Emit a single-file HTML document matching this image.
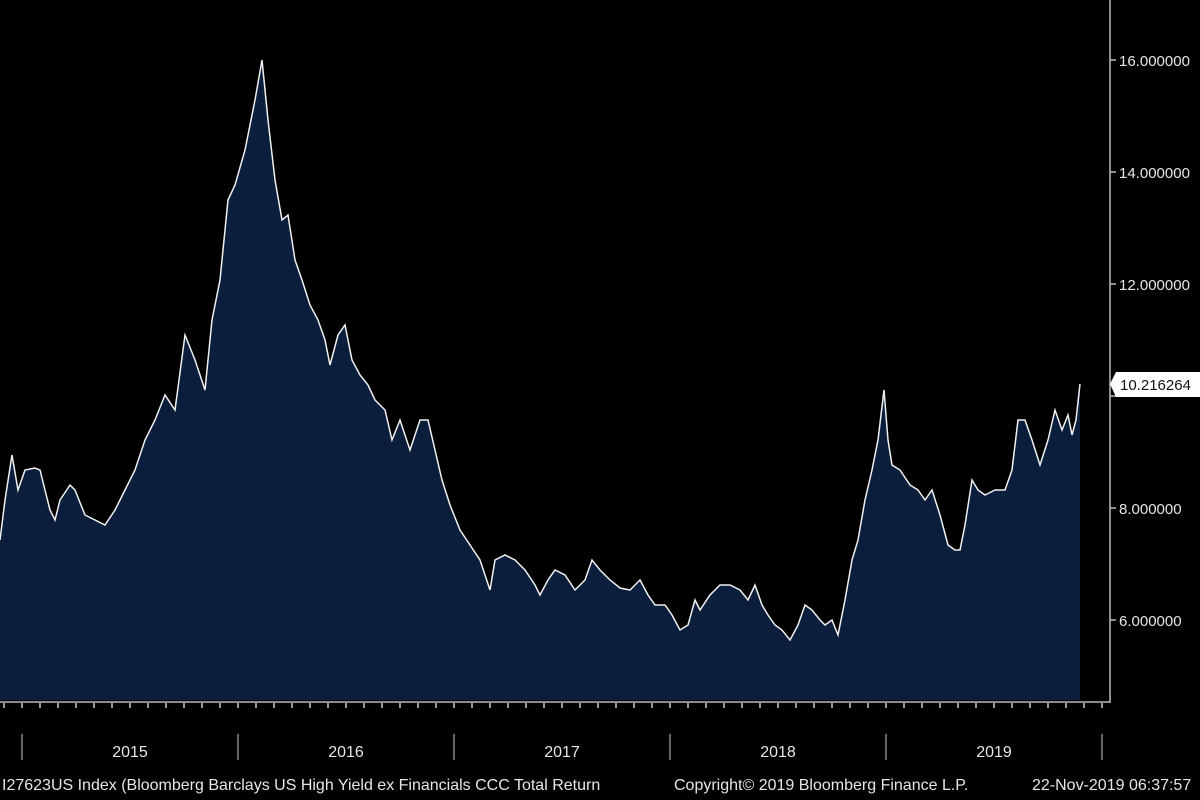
<!DOCTYPE html>
<html><head><meta charset="utf-8"><style>
html,body{margin:0;padding:0;background:#000;}
svg{display:block}
text{font-family:"Liberation Sans Narrow","Liberation Sans",sans-serif;fill:#e6e6e6}
</style></head><body>
<svg width="1200" height="800" viewBox="0 0 1200 800">
<rect width="1200" height="800" fill="#000"/>
<polygon fill="#0b1f3c" points="0,700 0,540 5,500 12,455 18,490 25,470 35,468 40,470 50,510 55,520 60,500 70,485 75,490 85,515 95,520 105,525 115,510 125,490 135,470 145,440 155,420 165,395 175,410 185,335 195,360 205,390 212,320 220,280 228,200 235,185 245,150 255,100 262,60 268,120 275,180 282,220 288,215 295,260 302,280 310,305 318,320 325,340 330,365 338,335 345,325 352,360 360,375 368,385 375,400 385,410 392,440 400,420 410,450 420,420 428,420 435,450 442,480 450,505 460,530 470,545 480,560 490,590 495,560 505,555 515,560 525,570 535,585 540,595 548,580 555,570 565,575 575,590 585,580 592,560 600,570 610,580 620,588 630,590 640,580 648,595 655,605 665,605 672,615 680,630 688,625 695,600 700,610 710,595 720,585 730,585 740,590 748,600 755,585 762,605 768,615 775,625 782,630 790,640 798,625 805,605 812,610 820,620 825,625 832,620 838,635 845,600 852,560 858,540 865,500 872,470 878,440 884,390 888,440 892,465 900,470 910,485 918,490 925,500 932,490 940,515 948,545 955,550 960,550 965,525 972,480 978,490 985,495 995,490 1005,490 1012,470 1018,420 1025,420 1032,440 1040,465 1048,440 1055,410 1062,430 1068,415 1072,435 1076,420 1080,384 1080,700"/>
<polyline fill="none" stroke="#f0f0f0" stroke-width="1.5" points="0,540 5,500 12,455 18,490 25,470 35,468 40,470 50,510 55,520 60,500 70,485 75,490 85,515 95,520 105,525 115,510 125,490 135,470 145,440 155,420 165,395 175,410 185,335 195,360 205,390 212,320 220,280 228,200 235,185 245,150 255,100 262,60 268,120 275,180 282,220 288,215 295,260 302,280 310,305 318,320 325,340 330,365 338,335 345,325 352,360 360,375 368,385 375,400 385,410 392,440 400,420 410,450 420,420 428,420 435,450 442,480 450,505 460,530 470,545 480,560 490,590 495,560 505,555 515,560 525,570 535,585 540,595 548,580 555,570 565,575 575,590 585,580 592,560 600,570 610,580 620,588 630,590 640,580 648,595 655,605 665,605 672,615 680,630 688,625 695,600 700,610 710,595 720,585 730,585 740,590 748,600 755,585 762,605 768,615 775,625 782,630 790,640 798,625 805,605 812,610 820,620 825,625 832,620 838,635 845,600 852,560 858,540 865,500 872,470 878,440 884,390 888,440 892,465 900,470 910,485 918,490 925,500 932,490 940,515 948,545 955,550 960,550 965,525 972,480 978,490 985,495 995,490 1005,490 1012,470 1018,420 1025,420 1032,440 1040,465 1048,440 1055,410 1062,430 1068,415 1072,435 1076,420 1080,384"/>
<line x1="1110" y1="0" x2="1110" y2="703" stroke="#bbb" stroke-width="1.5"/>
<line x1="0" y1="702" x2="1110" y2="702" stroke="#bbb" stroke-width="1.5"/>
<g stroke="#bbb" stroke-width="1.5">
<line x1="1110" y1="60" x2="1116" y2="60"/><line x1="1110" y1="172" x2="1116" y2="172"/><line x1="1110" y1="284" x2="1116" y2="284"/><line x1="1110" y1="396" x2="1116" y2="396"/><line x1="1110" y1="508" x2="1116" y2="508"/><line x1="1110" y1="620" x2="1116" y2="620"/>
</g>
<g font-size="15">
<text x="1119" y="66">16.000000</text>
<text x="1119" y="178">14.000000</text>
<text x="1119" y="290">12.000000</text>
<text x="1119" y="514">8.000000</text>
<text x="1119" y="626">6.000000</text>
</g>
<path d="M1110,384 L1116,372 L1200,372 L1200,397 L1116,397 Z" fill="#fff"/>
<text x="1120" y="390" font-size="15" style="fill:#111">10.216264</text>
<g stroke="#ccc" stroke-width="1.5" id="ticks">
<line x1="4" y1="703" x2="4" y2="708"/><line x1="22" y1="703" x2="22" y2="708"/><line x1="40" y1="703" x2="40" y2="708"/><line x1="58" y1="703" x2="58" y2="708"/><line x1="76" y1="703" x2="76" y2="708"/><line x1="94" y1="703" x2="94" y2="708"/><line x1="112" y1="703" x2="112" y2="708"/><line x1="130" y1="703" x2="130" y2="708"/><line x1="148" y1="703" x2="148" y2="708"/><line x1="166" y1="703" x2="166" y2="708"/><line x1="184" y1="703" x2="184" y2="708"/><line x1="202" y1="703" x2="202" y2="708"/><line x1="220" y1="703" x2="220" y2="708"/><line x1="238" y1="703" x2="238" y2="708"/><line x1="256" y1="703" x2="256" y2="708"/><line x1="274" y1="703" x2="274" y2="708"/><line x1="292" y1="703" x2="292" y2="708"/><line x1="310" y1="703" x2="310" y2="708"/><line x1="328" y1="703" x2="328" y2="708"/><line x1="346" y1="703" x2="346" y2="708"/><line x1="364" y1="703" x2="364" y2="708"/><line x1="382" y1="703" x2="382" y2="708"/><line x1="400" y1="703" x2="400" y2="708"/><line x1="418" y1="703" x2="418" y2="708"/><line x1="436" y1="703" x2="436" y2="708"/><line x1="454" y1="703" x2="454" y2="708"/><line x1="472" y1="703" x2="472" y2="708"/><line x1="490" y1="703" x2="490" y2="708"/><line x1="508" y1="703" x2="508" y2="708"/><line x1="526" y1="703" x2="526" y2="708"/><line x1="544" y1="703" x2="544" y2="708"/><line x1="562" y1="703" x2="562" y2="708"/><line x1="580" y1="703" x2="580" y2="708"/><line x1="598" y1="703" x2="598" y2="708"/><line x1="616" y1="703" x2="616" y2="708"/><line x1="634" y1="703" x2="634" y2="708"/><line x1="652" y1="703" x2="652" y2="708"/><line x1="670" y1="703" x2="670" y2="708"/><line x1="688" y1="703" x2="688" y2="708"/><line x1="706" y1="703" x2="706" y2="708"/><line x1="724" y1="703" x2="724" y2="708"/><line x1="742" y1="703" x2="742" y2="708"/><line x1="760" y1="703" x2="760" y2="708"/><line x1="778" y1="703" x2="778" y2="708"/><line x1="796" y1="703" x2="796" y2="708"/><line x1="814" y1="703" x2="814" y2="708"/><line x1="832" y1="703" x2="832" y2="708"/><line x1="850" y1="703" x2="850" y2="708"/><line x1="868" y1="703" x2="868" y2="708"/><line x1="886" y1="703" x2="886" y2="708"/><line x1="904" y1="703" x2="904" y2="708"/><line x1="922" y1="703" x2="922" y2="708"/><line x1="940" y1="703" x2="940" y2="708"/><line x1="958" y1="703" x2="958" y2="708"/><line x1="976" y1="703" x2="976" y2="708"/><line x1="994" y1="703" x2="994" y2="708"/><line x1="1012" y1="703" x2="1012" y2="708"/><line x1="1030" y1="703" x2="1030" y2="708"/><line x1="1048" y1="703" x2="1048" y2="708"/><line x1="1066" y1="703" x2="1066" y2="708"/><line x1="1084" y1="703" x2="1084" y2="708"/><line x1="1102" y1="703" x2="1102" y2="708"/>
</g>
<g stroke="#888" stroke-width="1.5">
<line x1="22" y1="734" x2="22" y2="760"/><line x1="238" y1="734" x2="238" y2="760"/><line x1="454" y1="734" x2="454" y2="760"/><line x1="670" y1="734" x2="670" y2="760"/><line x1="886" y1="734" x2="886" y2="760"/><line x1="1102" y1="734" x2="1102" y2="760"/>
</g>
<g font-size="16" text-anchor="middle">
<text x="130" y="757">2015</text><text x="346" y="757">2016</text><text x="562" y="757">2017</text><text x="778" y="757">2018</text><text x="994" y="757">2019</text>
</g>
<g font-size="16">
<text x="2" y="790">I27623US Index (Bloomberg Barclays US High Yield ex Financials CCC Total Return</text>
<text x="674" y="790">Copyright© 2019 Bloomberg Finance L.P.</text>
<text x="1032" y="790">22-Nov-2019 06:37:57</text>
</g>
</svg>
</body></html>
